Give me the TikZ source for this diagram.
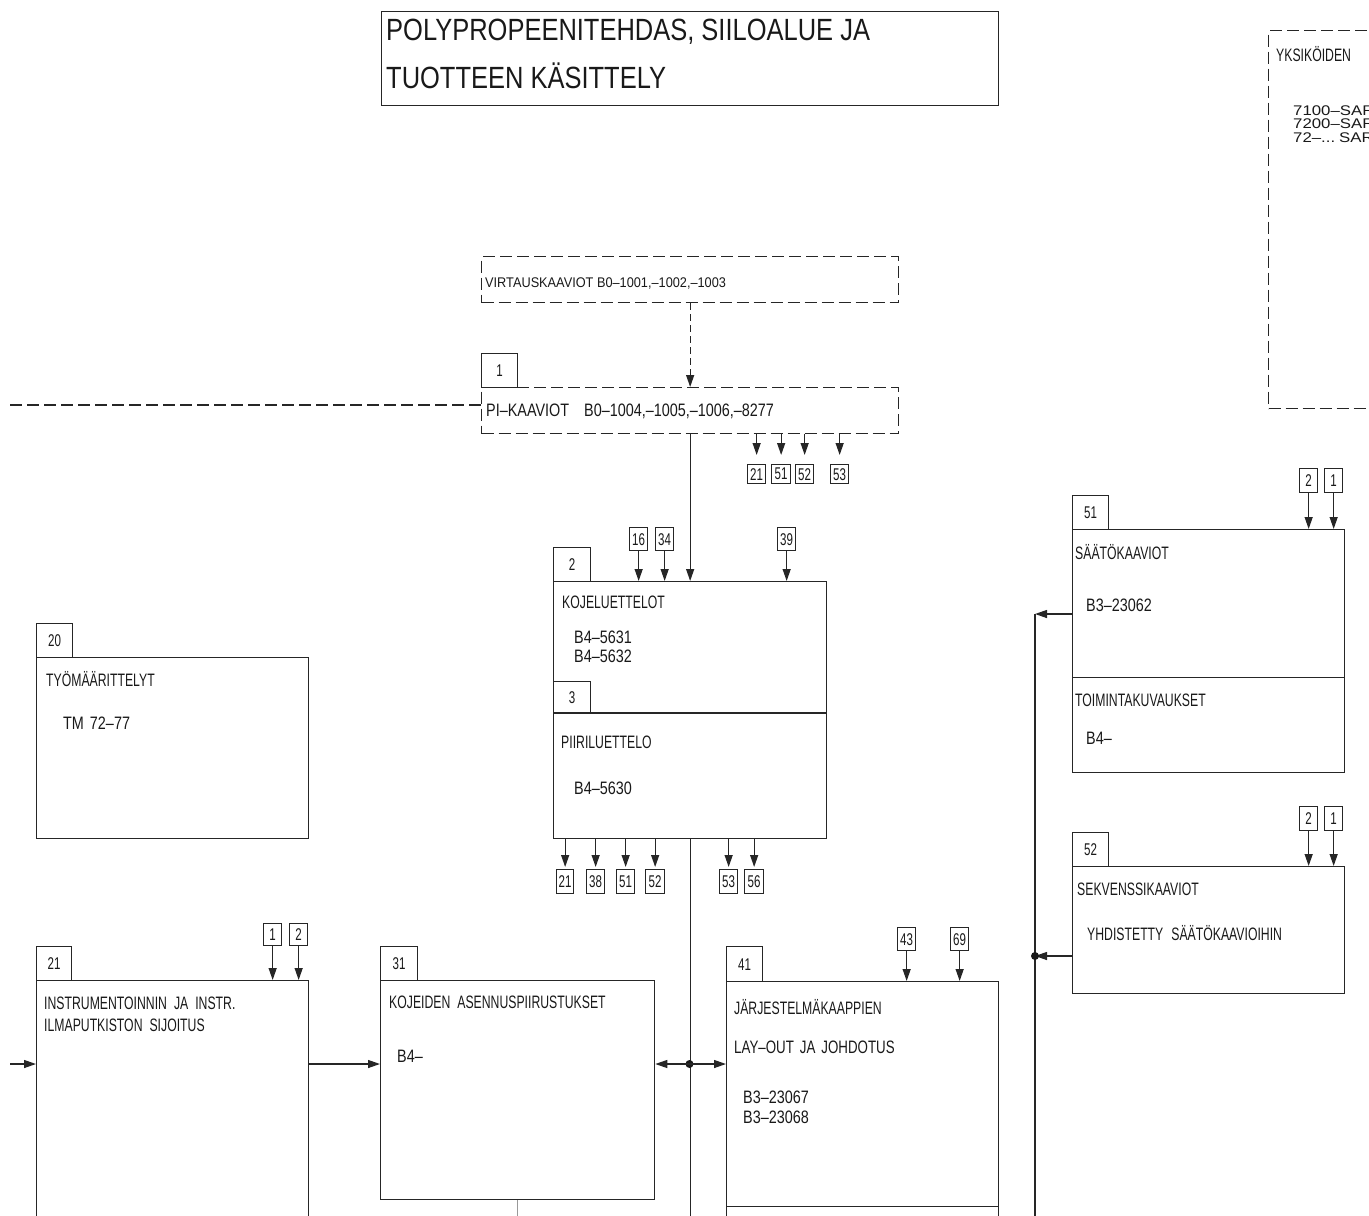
\documentclass[tikz,border=0pt]{standalone}
\usepackage{fontspec}
\setmainfont{Liberation Sans}
\newfontfamily\cad[FakeStretch=0.68]{Liberation Sans}
\newfontfamily\cadn[FakeStretch=0.8]{Liberation Sans}
\newfontfamily\cadm[FakeStretch=0.74]{Liberation Sans}
\newfontfamily\cadw[FakeStretch=0.91]{Liberation Sans}
\newfontfamily\cadx[FakeStretch=1.2]{Liberation Sans}
\newfontfamily\cadt[FakeStretch=0.83]{Liberation Sans}
\usetikzlibrary{arrows.meta}
\begin{document}
\begin{tikzpicture}[x=1pt,y=-1pt,
  lw/.style={line width=1.3pt, draw=black!85},
  box/.style={lw, rectangle, inner sep=0pt, anchor=north west},
  dbox/.style={box, dash pattern=on 12pt off 5pt},
  txt/.style={anchor=base west, inner sep=0pt, font=\cad\fontsize{18}{20}\selectfont, text=black!90},
  ntxt/.style={txt, font=\cadn\fontsize{18}{20}\selectfont},
  mtxt/.style={txt, font=\cadm\fontsize{18}{20}\selectfont},
  wtxt/.style={txt, font=\cadw\fontsize{14}{16}\selectfont},
  xtxt/.style={txt, font=\cadx\fontsize{14}{16}\selectfont},
  ttl/.style={txt, font=\cadt\fontsize{30.7}{34}\selectfont},
  tag/.style={box, font=\cad\fontsize{17}{19}\selectfont, text=black!90},
  refb/.style={box, font=\cad\fontsize{17}{19}\selectfont, text=black!90, minimum width=18pt, minimum height=24pt},
  arr/.style={lw, -{Triangle[length=12pt,width=8pt]}},
  darr/.style={arr, dash pattern=on 7pt off 4pt},
]
\useasboundingbox (0,0) rectangle (1369,1216);
\clip (0,0) rectangle (1369,1216);
\coordinate (bot) at (0,1240);

% title
\node[box, minimum width=617pt, minimum height=94pt] (title) at (381,11) {};
\node[ttl] (ttl1) at (386,40) {POLYPROPEENITEHDAS, SIILOALUE JA};
\node[ttl] (ttl2) at (386,88) {TUOTTEEN KÄSITTELY};

% top right dashed box
\node[dbox, minimum width=200pt, minimum height=378pt] (yks) at (1268,30) {};
\node[txt] (yksT) at (1276,61) {YKSIKÖIDEN};
\node[xtxt] (yk1) at (1293,115) {7100–SAR};
\node[xtxt] (yk2) at (1293,128) {7200–SAR};
\node[xtxt] (yk3) at (1293,142) {72–...\hspace{4pt}SAR};

% virtaus / PI
\node[dbox, minimum width=417pt, minimum height=46pt] (virt) at (481,256) {};
\node[wtxt] (virtT) at (485,287) {VIRTAUSKAAVIOT B0–1001,–1002,–1003};
\node[dbox, minimum width=417pt, minimum height=46pt] (pi) at (481,387) {};
\node[tag, minimum width=36pt, minimum height=34pt] (tg1) at (481,353) {1};
\node[ntxt] (piT) at (486,416) {PI–KAAVIOT\hspace{15pt}B0–1004,–1005,–1006,–8277};
\node[refb, minimum width=18pt, minimum height=19pt] (p21) at (747,464) {21};
\node[refb, minimum width=19pt, minimum height=19pt] (p51) at (771,464) {51};
\node[refb, minimum width=18pt, minimum height=19pt] (p52) at (795,464) {52};
\node[refb, minimum width=18pt, minimum height=19pt] (p53) at (830,464) {53};

% box 2 / 3
\node[box, minimum width=273pt, minimum height=132pt] (b2) at (553,581) {};
\node[box, minimum width=273pt, minimum height=125pt] (b3) at (553,713) {};
\draw[lw, line width=2.8pt] (b3.north west) -- (b3.north east);
\node[tag, minimum width=37pt, minimum height=34pt] (tg2) at (553,547) {2};
\node[tag, minimum width=37pt, minimum height=32pt] (tg3) at (553,681) {3};
\node[txt] (b2a) at (562,608) {KOJELUETTELOT};
\node[ntxt] (b2b) at (574,643) {B4–5631};
\node[ntxt] (b2c) at (574,662) {B4–5632};
\node[txt] (b3a) at (561,748) {PIIRILUETTELO};
\node[ntxt] (b3b) at (574,794) {B4–5630};
\node[refb, minimum height=23pt] (r16) at (629,527) {16};
\node[refb, minimum height=23pt] (r34) at (655,527) {34};
\node[refb, minimum height=23pt] (r39) at (777,527) {39};
\node[refb, minimum width=17pt] (q21) at (556,869) {21};
\node[refb] (q38) at (586,869) {38};
\node[refb] (q51) at (616,869) {51};
\node[refb, minimum width=19pt] (q52) at (645,869) {52};
\node[refb] (q53) at (719,869) {53};
\node[refb, minimum width=19pt] (q56) at (744,869) {56};

% box 20
\node[box, minimum width=272pt, minimum height=181pt] (b20) at (36,657) {};
\node[tag, minimum width=36pt, minimum height=34pt] (tg20) at (36,623) {20};
\node[txt] (b20a) at (46,686) {TYÖMÄÄRITTELYT};
\node[ntxt] (b20b) at (63,729) {TM\hspace{6pt}72–77};

% box 21
\node[box, minimum width=272pt, minimum height=300pt] (b21) at (36,980) {};
\node[tag, minimum width=35pt, minimum height=34pt] (tg21) at (36,946) {21};
\node[txt] (b21a) at (44,1009) {INSTRUMENTOINNIN\hspace{7pt}JA\hspace{7pt}INSTR.};
\node[txt] (b21b) at (44,1031) {ILMAPUTKISTON\hspace{7pt}SIJOITUS};
\node[refb, minimum height=22pt] (s1) at (263,923) {1};
\node[refb, minimum height=22pt] (s2) at (289,923) {2};

% box 31
\node[box, minimum width=274pt, minimum height=219pt] (b31) at (380,980) {};
\node[tag, minimum width=37pt, minimum height=34pt] (tg31) at (380,946) {31};
\node[txt] (b31a) at (389,1008) {KOJEIDEN\hspace{7pt}ASENNUSPIIRUSTUKSET};
\node[ntxt] (b31b) at (397,1062) {B4–};

% box 41
\node[box, minimum width=272pt, minimum height=225pt] (b41) at (726,981) {};
\node[box, minimum width=272pt, minimum height=100pt] (b41b) at (726,1206) {};
\node[tag, minimum width=36pt, minimum height=35pt] (tg41) at (726,946) {41};
\node[txt] (b41a) at (734,1014) {JÄRJESTELMÄKAAPPIEN};
\node[mtxt] (b41c) at (734,1053) {LAY–OUT\hspace{6pt}JA\hspace{6pt}JOHDOTUS};
\node[ntxt] (b41d) at (743,1103) {B3–23067};
\node[ntxt] (b41e) at (743,1123) {B3–23068};
\node[refb, minimum height=23pt] (u43) at (897,927) {43};
\node[refb, minimum height=23pt] (u69) at (950,927) {69};

% box 51
\node[box, minimum width=272pt, minimum height=148pt] (b51) at (1072,529) {};
\node[box, minimum width=272pt, minimum height=95pt] (b51b) at (1072,677) {};
\node[tag, minimum width=36pt, minimum height=34pt] (tg51) at (1072,495) {51};
\node[txt] (b51a) at (1075,559) {SÄÄTÖKAAVIOT};
\node[ntxt] (b51c) at (1086,611) {B3–23062};
\node[txt] (b51d) at (1075,706) {TOIMINTAKUVAUKSET};
\node[ntxt] (b51e) at (1086,744) {B4–};
\node[refb] (v2) at (1299,468) {2};
\node[refb] (v1) at (1324,468) {1};

% box 52
\node[box, minimum width=272pt, minimum height=127pt] (b52) at (1072,866) {};
\node[tag, minimum width=36pt, minimum height=34pt] (tg52) at (1072,832) {52};
\node[txt] (b52a) at (1077,895) {SEKVENSSIKAAVIOT};
\node[txt] (b52b) at (1087,940) {YHDISTETTY\hspace{8pt}SÄÄTÖKAAVIOIHIN};
\node[refb] (w2) at (1299,806) {2};
\node[refb] (w1) at (1324,806) {1};

% connectors
\coordinate (lft) at (10,405);
\draw[lw, dash pattern=on 12pt off 5pt] (lft) -- (lft -| pi.west);
\draw[darr] (virt.south) -- (pi.north);
\foreach \n in {p21,p51,p52,p53} \draw[arr, shorten >=9pt] (pi.south -| \n.north) -- (\n.north);
\draw[arr] (pi.south) -- (b2.north);
\foreach \n in {r16,r34,r39} \draw[arr] (\n.south) -- (\n.south |- b2.north);
\foreach \n in {q21,q38,q51,q52,q53,q56} \draw[arr, shorten >=2pt] (b3.south -| \n.north) -- (\n.north);
\draw[lw] (b3.south) -- (b3.south |- bot);
\coordinate (ja) at (689.5,1064);
\fill[black!90] (ja) circle (4pt);
\draw[arr] (ja) -- (ja -| b31.east);
\draw[arr] (ja) -- (ja -| b41.west);
\coordinate (lin) at (10,1064);
\draw[arr] (lin) -- (lin -| b21.west);
\draw[arr] (b21.east |- ja) -- (b31.west |- ja);
\draw[lw, draw=black!40] (b31.south) -- (b31.south |- bot);
\foreach \n in {s1,s2} \draw[arr] (\n.south) -- (\n.south |- b21.north);
\foreach \n in {u43,u69} \draw[arr] (\n.south) -- (\n.south |- b41.north);
\foreach \n in {v2,v1} \draw[arr] (\n.south) -- (\n.south |- b51.north);
\foreach \n in {w2,w1} \draw[arr] (\n.south) -- (\n.south |- b52.north);
\coordinate (rr1) at (1035,614);
\coordinate (rr2) at (1035,956);
\draw[arr] (b51.west |- rr1) -- (rr1);
\draw[lw] (rr1) -- (rr1 |- bot);
\draw[arr] (b52.west |- rr2) -- (rr2);
\fill[black!90] (rr2) circle (4pt);
\end{tikzpicture}
\end{document}
